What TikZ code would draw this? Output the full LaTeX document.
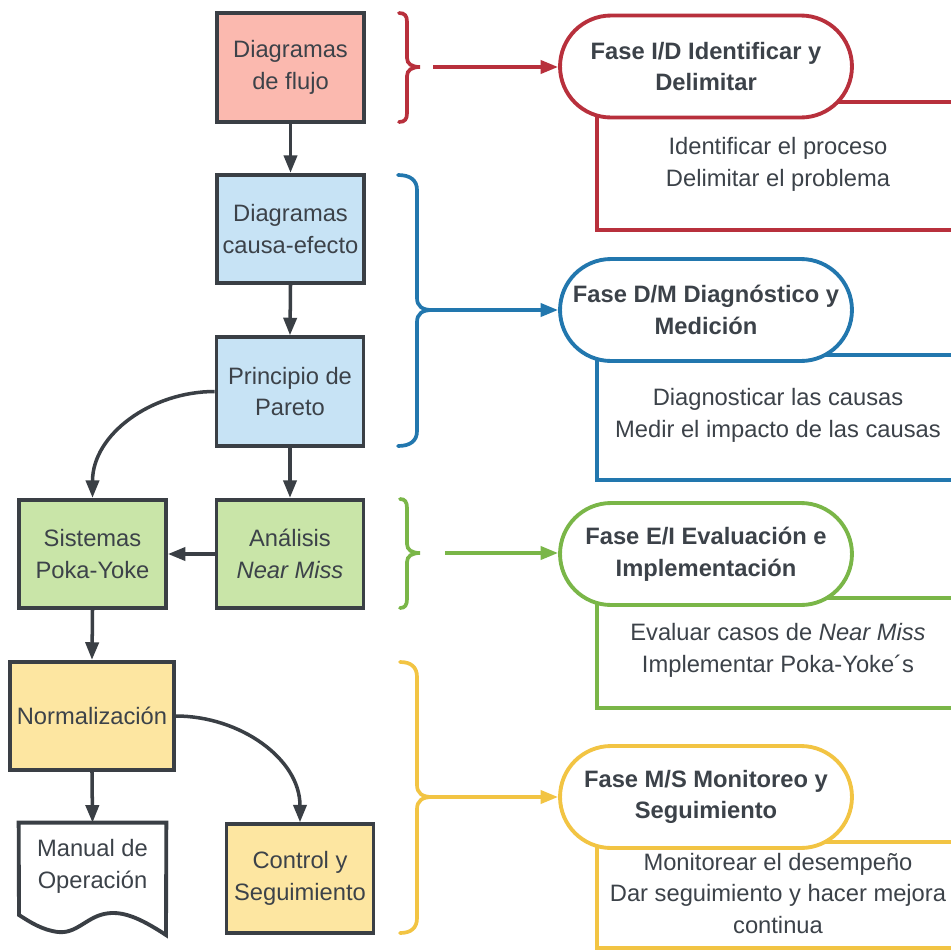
\documentclass[tikz,border=0pt]{standalone}
\usepackage{fontspec}
\setmainfont{Liberation Sans}
\usetikzlibrary{arrows.meta}

\definecolor{ink}{HTML}{3A3F45}
\definecolor{txt}{HTML}{3C4249}
\definecolor{phred}{HTML}{B8303C}
\definecolor{phblue}{HTML}{2277AE}
\definecolor{phgreen}{HTML}{7AB648}
\definecolor{phyellow}{HTML}{F2C443}
\definecolor{fillred}{HTML}{FBB9AF}
\definecolor{fillblue}{HTML}{C7E3F5}
\definecolor{fillgreen}{HTML}{C9E5A8}
\definecolor{fillyellow}{HTML}{FDE6A1}

\tikzset{
  tool/.style={draw=ink, line width=2.2pt, inner sep=0pt, align=center,
    minimum width=2.94cm, minimum height=2.17cm},
  flow/.style={draw=ink, line width=2pt,
    -{Triangle[length=10pt,width=7.5pt]}},
  phase/.style={draw=#1, line width=2.2pt, fill=white, rounded corners=1.02cm,
    minimum width=5.84cm, minimum height=2.04cm, inner sep=0pt, align=center,
    font=\fontsize{13.5}{18.1}\selectfont\bfseries},
  detail/.style={draw=#1, line width=2.1pt, fill=white},
  brace/.style={draw=#1, line width=2.1pt, line cap=round},
  link/.style={draw=#1, line width=2pt,
    -{Triangle[length=10pt,width=7.5pt]}},
  note/.style={inner sep=0pt, align=center},
}

\begin{document}
\begin{tikzpicture}[x=0.02cm, y=-0.02cm, text=txt,
  font=\fontsize{13.5}{18.1}\selectfont]
\useasboundingbox (0,0) rectangle (951,951);
\clip (0,0) rectangle (951,951);
\fill[white] (0,0) rectangle (951,951);

% ---------- tools column ----------
\node[tool, fill=fillred]    (flujo)    at (290.5,67.5) {Diagramas\\de flujo};
\node[tool, fill=fillblue]   (causa)    at (290.5,229)  {Diagramas\\causa-efecto};
\node[tool, fill=fillblue]   (pareto)   at (290,391.5)  {Principio de\\Pareto};
\node[tool, fill=fillgreen]  (analisis) at (290,554)    {Análisis\\\textit{Near Miss}};
\node[tool, fill=fillgreen]  (poka)     at (92.5,554)   {Sistemas\\Poka-Yoke};
\node[tool, fill=fillyellow, minimum width=3.28cm] (norm) at (92,716) {Normalización};
\node[tool, fill=fillyellow] (control)  at (300,878.5)  {Control y\\Seguimiento};

% document shape for the manual
\node[inner sep=0pt, minimum width=2.94cm, minimum height=2.24cm] (manual) at (92.5,879) {};
\draw[ink, line width=2.2pt, fill=white, line join=miter]
  (manual.north west) -- (manual.north east) -- (166,935)
  .. controls (140,918) and (122,910) .. (104,914)
  .. controls (86,918) and (76,934) .. (58,932)
  .. controls (42,930) and (30,922) .. (19,915) -- cycle;
\node[note] (manualtxt) at (92.5,866) {Manual de\\Operación};

% ---------- connectors between tools ----------
\draw[flow] (flujo.south) -- (causa.north);
\draw[flow] (causa.south) -- (pareto.north);
\draw[flow] (pareto.south) -- (analisis.north);
\draw[flow] (analisis.west) -- (poka.east);
\draw[flow] (pareto.west) to[out=180, in=90] (poka.north);
\draw[flow] (poka.south) -- (norm.north);
\draw[flow] (norm.south) -- (manual.north);
\draw[flow] (norm.east) to[out=0, in=90] (control.north);

% ---------- braces ----------
\draw[brace=phred] (399,13) .. controls (405,13) and (407,16) .. (407,22)
  -- (407,58) .. controls (407,64) and (412,67) .. (420,67)
  .. controls (412,67) and (407,70) .. (407,76)
  -- (407,113) .. controls (407,119) and (405,122) .. (399,122);
\coordinate (tipI) at (433,67);

\draw[brace=phblue] (398,175) .. controls (410,175) and (417,180) .. (417,190)
  -- (417,298) .. controls (417,306) and (422,310) .. (432,310)
  .. controls (422,310) and (417,314) .. (417,322)
  -- (417,431) .. controls (417,441) and (410,446) .. (398,446);
\coordinate (tipD) at (430,310);

\draw[brace=phgreen] (400,499) .. controls (405,499) and (407,502) .. (407,508)
  -- (407,544) .. controls (407,550) and (412,553) .. (420,553)
  .. controls (412,553) and (407,556) .. (407,562)
  -- (407,599) .. controls (407,605) and (405,608) .. (400,608);
\coordinate (tipE) at (445,553);

\draw[brace=phyellow] (400,662) .. controls (411,662) and (417,667) .. (417,677)
  -- (417,785) .. controls (417,793) and (422,797) .. (432,797)
  .. controls (422,797) and (417,801) .. (417,809)
  -- (417,918) .. controls (417,928) and (411,933) .. (400,933);
\coordinate (tipM) at (430,797);

% ---------- phase detail boxes ----------
\node[detail=phred,    minimum width=8.2cm, minimum height=2.56cm] (boxI) at (802,166) {};
\node[detail=phblue,   minimum width=8.2cm, minimum height=2.50cm] (boxD) at (802,417.5) {};
\node[detail=phgreen,  minimum width=8.2cm, minimum height=2.20cm] (boxE) at (802,653) {};
\node[detail=phyellow, minimum width=8.2cm, minimum height=2.12cm] (boxM) at (802,895) {};

\node[note] (txtI) at (778,164)   {Identificar el proceso\\Delimitar el problema};
\node[note] (txtD) at (778,415.5) {Diagnosticar las causas\\Medir el impacto de las causas};
\node[note] (txtE) at (778,650)   {Evaluar casos de \textit{Near Miss}\\Implementar Poka-Yoke´s};
\node[note] (txtM) at (778,893.5) {Monitorear el desempeño\\Dar seguimiento y hacer mejora\\continua};

% ---------- phase headers ----------
\node[phase=phred]    (faseI) at (706,66.5) {Fase I/D Identificar y\\Delimitar};
\node[phase=phblue]   (faseD) at (706,310)  {Fase D/M Diagnóstico y\\Medición};
\node[phase=phgreen]  (faseE) at (706,554)  {Fase E/I Evaluación e\\Implementación};
\node[phase=phyellow] (faseM) at (706,797)  {Fase M/S Monitoreo y\\Seguimiento};

% ---------- links from braces to phases ----------
\draw[link=phred]    (tipI) -- (tipI -| faseI.west);
\draw[link=phblue]   (tipD) -- (tipD -| faseD.west);
\draw[link=phgreen]  (tipE) -- (tipE -| faseE.west);
\draw[link=phyellow] (tipM) -- (tipM -| faseM.west);
\end{tikzpicture}
\end{document}
